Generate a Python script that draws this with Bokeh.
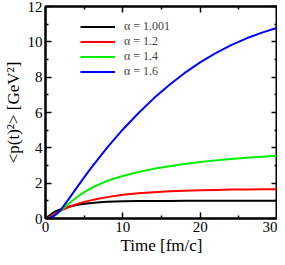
from bokeh.plotting import figure
from bokeh.models import LinearAxis, Range1d, Legend, LegendItem, FixedTicker, CustomJSTickFormatter
from bokeh.embed import file_html
from bokeh.resources import INLINE

t = [0, 0.5, 1, 1.5, 2, 3, 4, 5, 6, 7, 8, 9, 10, 12, 14, 16, 18, 20, 22, 24, 26, 28, 30]
p_1001 = [0, 0.17, 0.33, 0.44, 0.53, 0.66, 0.76, 0.83, 0.88, 0.92, 0.945, 0.96, 0.97, 0.985, 0.99, 0.995, 1.0, 1.0, 1.0, 1.0, 1.0, 1.0, 1.0]
p_12 = [0, 0.09, 0.2, 0.33, 0.45, 0.65, 0.81, 0.94, 1.04, 1.13, 1.21, 1.28, 1.34, 1.43, 1.49, 1.54, 1.57, 1.6, 1.62, 1.635, 1.645, 1.65, 1.655]
p_14 = [0, 0.03, 0.12, 0.26, 0.45, 0.84, 1.19, 1.49, 1.74, 1.95, 2.13, 2.28, 2.41, 2.63, 2.81, 2.96, 3.09, 3.2, 3.29, 3.37, 3.44, 3.5, 3.55]
p_16 = [0, 0.03, 0.12, 0.28, 0.5, 1.1, 1.72, 2.33, 2.92, 3.48, 4.02, 4.54, 5.04, 5.96, 6.8, 7.56, 8.24, 8.84, 9.36, 9.81, 10.2, 10.52, 10.8]
labels = ["\u03b1 = 1.001", "\u03b1 = 1.2", "\u03b1 = 1.4", "\u03b1 = 1.6"]
colors = ["black", "#ff0000", "#00ee00", "#0000ff"]
series = [p_1001, p_12, p_14, p_16]

FONT = "Liberation Serif"

p = figure(width=277, height=257, output_backend="svg", toolbar_location=None,
           x_range=Range1d(0, 30), y_range=Range1d(0, 12),
           min_border_left=0, min_border_right=0, min_border_top=6, min_border_bottom=0)
p.xgrid.visible = False
p.ygrid.visible = False
p.outline_line_color = "black"
p.outline_line_width = 2
p.background_fill_color = "white"
p.border_fill_color = "white"

xt = FixedTicker(ticks=[0, 10, 20, 30], minor_ticks=[5, 15, 25])
yt = FixedTicker(ticks=[0, 2, 4, 6, 8, 10, 12], minor_ticks=[1, 3, 5, 7, 9, 11])

def style(ax):
    ax.axis_line_color = "black"
    ax.axis_line_width = 2
    ax.major_tick_in = 6
    ax.major_tick_out = 0
    ax.minor_tick_in = 3
    ax.minor_tick_out = 0
    ax.major_tick_line_width = 1.5
    ax.minor_tick_line_width = 1.5
    ax.major_label_text_font = FONT
    ax.major_label_text_font_size = "15px"
    ax.major_label_text_color = "black"
    ax.axis_label_text_font = FONT
    ax.axis_label_text_font_style = "normal"
    ax.axis_label_text_font_size = "17px"
    ax.axis_label_text_color = "black"

p.xaxis.ticker = xt
p.yaxis.ticker = yt
style(p.xaxis[0])
style(p.yaxis[0])
p.xaxis.axis_label = "Time [fm/c]"
p.yaxis.axis_label = "<p(t)\u00b2> [GeV\u00b2]"
p.xaxis.major_label_standoff = 3
p.yaxis.major_label_standoff = 3
p.xaxis.axis_label_standoff = 1
p.yaxis.axis_label_standoff = 2

blank = CustomJSTickFormatter(code="return ''")
top = LinearAxis(ticker=xt, formatter=blank)
style(top)
top.major_label_standoff = 0
top.major_label_text_font_size = "1px"
p.add_layout(top, "above")
right = LinearAxis(ticker=yt, formatter=blank)
style(right)
right.major_label_standoff = 0
right.major_label_text_font_size = "1px"
p.add_layout(right, "right")

items = []
for lab, col, ys in zip(labels, colors, series):
    r = p.line(t, ys, line_color=col, line_width=2)
    items.append(LegendItem(label=lab, renderers=[r]))

leg = Legend(items=items, location=(35, 139), border_line_color=None,
             background_fill_alpha=0, label_text_font=FONT, label_text_font_size="12px",
             glyph_width=35, glyph_height=11, label_height=11, spacing=-1, padding=4,
             label_standoff=9, margin=0)
p.add_layout(leg, "center")

open("out.html", "w").write(file_html(p, INLINE))
